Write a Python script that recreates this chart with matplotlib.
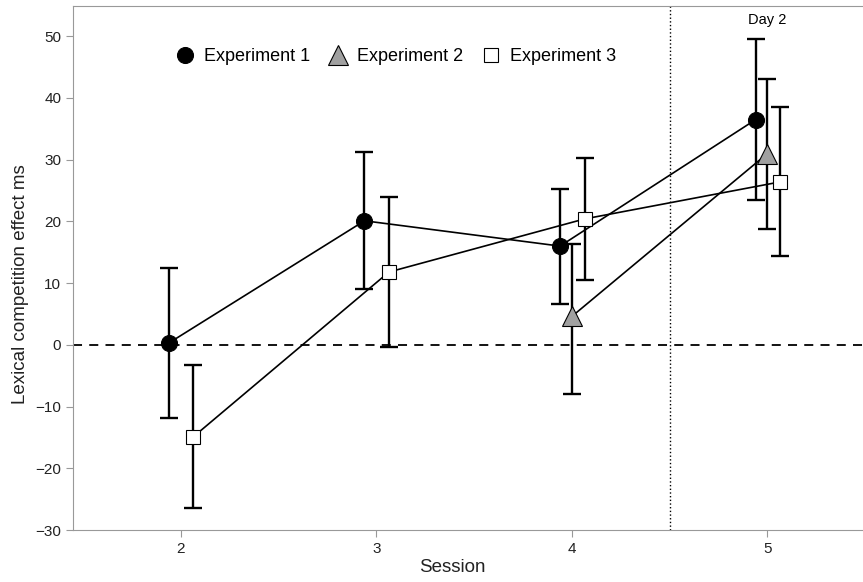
import numpy as np
import matplotlib.pyplot as plt
from matplotlib.lines import Line2D

plt.rcParams['font.family'] = ['Liberation Sans', 'DejaVu Sans']

# Session values per experiment (mean, upper and lower error bar ends)
sess1 = [2, 3, 4, 5]
exp1 = [0.3, 20.1, 16.0, 36.5]
exp1_hi = [12.4, 31.2, 25.3, 49.5]
exp1_lo = [-11.9, 9.1, 6.6, 23.4]

sess2 = [4, 5]
exp2 = [4.6, 31.0]
exp2_hi = [16.4, 43.0]
exp2_lo = [-7.9, 18.8]

sess3 = [2, 3, 4, 5]
exp3 = [-14.9, 11.8, 20.4, 26.4]
exp3_hi = [-3.3, 24.0, 30.3, 38.6]
exp3_lo = [-26.4, -0.4, 10.5, 14.4]

fig = plt.figure(figsize=(8.63, 5.82), dpi=100)
ax = fig.add_axes([0.0846, 0.0893, 0.918, 0.9004])

handles = []
def draw(sess, m, hi, lo, dx, marker, fc, ms, label):
    x = np.array(sess) + dx
    m = np.array(m)
    err = [m - np.array(lo), np.array(hi) - m]
    ax.errorbar(x, m, yerr=err, fmt='none', ecolor='black', elinewidth=1.7,
                capsize=6.8, capthick=1.7, zorder=2)
    ax.plot(x, m, color='black', lw=1.2, marker=marker, ms=ms, mfc=fc,
            mec='black', mew=0.8, zorder=3)
    handles.append(Line2D([], [], ls='none', marker=marker, ms=ms, mfc=fc,
                          mec='black', mew=0.8, label=label))

draw(sess1, exp1, exp1_hi, exp1_lo, -0.06, 'o', 'black', 11.5, 'Experiment 1')
draw(sess2, exp2, exp2_hi, exp2_lo, 0.0, '^', '#a0a0a0', 14, 'Experiment 2')
draw(sess3, exp3, exp3_hi, exp3_lo, 0.065, 's', 'white', 10.5, 'Experiment 3')

ax.axhline(0, color='black', ls=(0, (5, 4)), lw=1.3, zorder=1)
ax.axvline(4.5, color='black', ls=':', lw=1.0, zorder=1)
ax.text(5.0, 52.7, 'Day 2', ha='center', va='center', fontsize=10.5)

ax.set_xlim(1.45, 5.5)
ax.set_ylim(-30, 54.9)
ax.set_xticks([2, 3, 4, 5])
ax.set_yticks(range(-30, 51, 10))
ax.tick_params(colors='#999999', labelcolor='#222222', labelsize=11, length=5)
for s in ax.spines.values():
    s.set_color('#999999')
ax.spines['right'].set_visible(False)
ax.set_xlabel('Session', fontsize=13.5, color='#222222')
ax.set_ylabel('Lexical competition effect ms', fontsize=13.5, color='#222222')
ax.xaxis.set_label_coords(0.479, -0.055)
ax.yaxis.set_label_coords(-0.055, 0.47)

ax.legend(handles=handles, loc='center left', bbox_to_anchor=(0.121, 0.903), ncol=3,
          frameon=False, fontsize=13, handlelength=1.0, columnspacing=1.05,
          handletextpad=0.55, borderaxespad=0)

fig.savefig('out.png', dpi=100)
